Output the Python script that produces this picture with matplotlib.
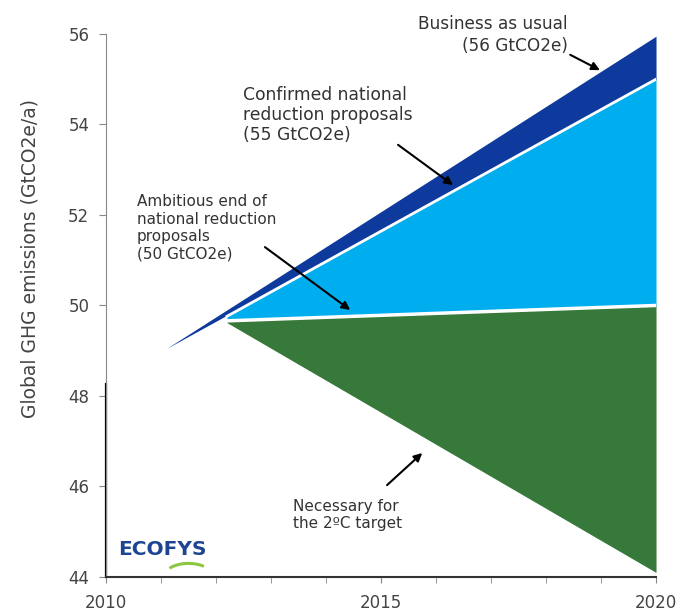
import matplotlib
matplotlib.use("Agg")
from matplotlib import pyplot as plt
from matplotlib.patches import Arc

# scenario lines (year, GtCO2e/a)
bau_years = [2011.1, 2020]
bau_upper = [49.05, 55.95]
bau_lower = [49.05, 55.0]

pledge_years = [2012.2, 2020]
confirmed = [49.76, 55.0]
ambitious = [49.66, 50.0]
two_degree = [49.62, 44.1]

year_ticks = [2010, 2015, 2020]
year_minor = list(range(2010, 2021))
emission_ticks = [44, 46, 48, 50, 52, 54, 56]

dark_blue = "#0d3a9c"
light_blue = "#00aeef"
green = "#37793a"
text_col = "#333333"

plt.rcParams['font.family'] = ['DejaVu Sans']

fig = plt.figure(figsize=(6.85, 6.14), dpi=100)
ax = fig.add_axes([0.1547, 0.0603, 0.803, 0.8844])

ax.fill_between(bau_years, bau_lower, bau_upper, color=dark_blue, lw=0)
ax.fill_between(pledge_years, ambitious, confirmed, color=light_blue, lw=0)
ax.fill_between(pledge_years, two_degree, ambitious, color=green, lw=0)
# white separators between the bands
ax.plot(pledge_years, confirmed, color="white", lw=2)
ax.plot(pledge_years, ambitious, color="white", lw=2.5)

ax.set_xlim(2010, 2020)
ax.set_ylim(44, 56)
ax.set_xticks(year_ticks)
ax.set_xticks(year_minor, minor=True)
ax.set_yticks(emission_ticks)

for s in ["top", "right"]:
    ax.spines[s].set_visible(False)
ax.spines["left"].set_color("#888888")
ax.spines["bottom"].set_color("#333333")
ax.spines["bottom"].set_linewidth(1.5)
ax.axvline(2010, ymin=0, ymax=0.355, color="black", lw=1.6, clip_on=False)

ax.tick_params(axis="y", direction="out", length=5, color="#888888",
               labelsize=12, labelcolor="#444444", pad=7)
ax.tick_params(axis="x", which="both", direction="out", length=4.5,
               color="#888888", labelsize=12, labelcolor="#444444", pad=8)

ax.set_ylabel("Global GHG emissions (GtCO2e/a)", fontsize=13.5, color="#444444",
              va="center")
ax.yaxis.set_label_coords(-0.138, 0.587)

arrow = dict(arrowstyle="-|>", color="black", lw=1.5, mutation_scale=12,
             shrinkA=0, shrinkB=0)

ax.text(2018.4, 55.98, "Business as usual\n(56 GtCO2e)", fontsize=12.2,
        color=text_col, va="center", ha="right", multialignment="right",
        linespacing=1.3)
ax.annotate("", xy=(2018.98, 55.2), xytext=(2018.44, 55.54), arrowprops=arrow)

ax.text(2012.49, 54.21, "Confirmed national\nreduction proposals\n(55 GtCO2e)",
        fontsize=12.3, color=text_col, va="center", ha="left", linespacing=1.15)
ax.annotate("", xy=(2016.31, 52.66), xytext=(2015.31, 53.55), arrowprops=arrow)

ax.text(2010.56, 51.71, "Ambitious end of\nnational reduction\nproposals\n(50 GtCO2e)",
        fontsize=11, color=text_col, va="center", ha="left", linespacing=1.2)
ax.annotate("", xy=(2014.44, 49.9), xytext=(2012.89, 51.29), arrowprops=arrow)

ax.text(2013.4, 45.37, "Necessary for\nthe 2ºC target", fontsize=11,
        color=text_col, va="center", ha="left", linespacing=1.15)
ax.annotate("", xy=(2015.75, 46.74), xytext=(2015.11, 46.03), arrowprops=arrow)

# logo
ax.text(0.022, 0.05, "ECOFYS", transform=ax.transAxes, fontsize=14.5,
        fontweight="bold", color="#1d4591", ha="left", va="center")
ax.add_patch(Arc((0.15, 0.0), 0.09, 0.05, theta1=35, theta2=155,
                 transform=ax.transAxes, color="#8dc63f", lw=2.2, clip_on=False))

fig.savefig("out.png", dpi=100)
